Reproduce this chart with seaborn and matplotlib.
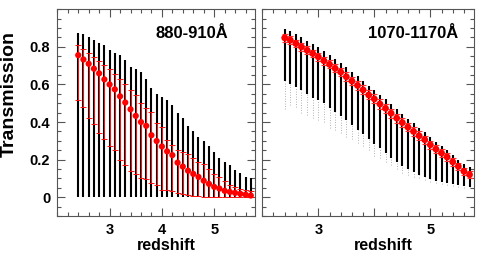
import matplotlib
matplotlib.use("Agg")
import matplotlib.pyplot as plt
from matplotlib.ticker import MultipleLocator, FixedLocator
import seaborn as sns
import numpy as np

# redshift bins (same for both panels)
z = [2.4, 2.5, 2.6, 2.7, 2.8, 2.9, 3.0, 3.1, 3.2, 3.3, 3.4, 3.5, 3.6, 3.7, 3.8, 3.9, 4.0,
     4.1, 4.2, 4.3, 4.4, 4.5, 4.6, 4.7, 4.8, 4.9, 5.0, 5.1, 5.2, 5.3, 5.4, 5.5, 5.6, 5.7]

# 880-910A panel
lyc_mean = [0.756, 0.733, 0.71, 0.684, 0.659, 0.627, 0.60, 0.574, 0.537, 0.504, 0.468, 0.433,
            0.40, 0.38, 0.33, 0.299, 0.27, 0.244, 0.224, 0.184, 0.163, 0.141, 0.124, 0.108,
            0.088, 0.071, 0.055, 0.046, 0.034, 0.028, 0.023, 0.018, 0.014, 0.009]
lyc_hi = [0.81, 0.79, 0.77, 0.747, 0.724, 0.703, 0.68, 0.654, 0.629, 0.60, 0.57, 0.544,
          0.50, 0.475, 0.452, 0.394, 0.371, 0.306, 0.279, 0.253, 0.24, 0.23, 0.21, 0.19,
          0.177, 0.15, 0.125, 0.106, 0.085, 0.067, 0.055, 0.044, 0.038, 0.032]
lyc_lo = [0.518, 0.479, 0.42, 0.392, 0.34, 0.312, 0.275, 0.249, 0.198, 0.17, 0.139, 0.122,
          0.10, 0.097, 0.076, 0.064, 0.04, 0.037, 0.032, 0.025, 0.018, 0.012, 0.008, 0.005,
          0.003, 0.0, 0.0, 0.0, 0.0, 0.0, 0.0, 0.0, 0.0, 0.0]
lyc_top = [0.876, 0.871, 0.853, 0.839, 0.822, 0.809, 0.783, 0.768, 0.756, 0.73, 0.694, 0.68,
           0.668, 0.629, 0.58, 0.55, 0.535, 0.518, 0.491, 0.447, 0.42, 0.38, 0.35, 0.32,
           0.30, 0.27, 0.24, 0.21, 0.19, 0.17, 0.145, 0.13, 0.11, 0.10]

# 1070-1170A panel
lya_mean = [0.848, 0.836, 0.818, 0.80, 0.782, 0.765, 0.747, 0.726, 0.707, 0.686, 0.666, 0.641,
            0.618, 0.595, 0.571, 0.544, 0.523, 0.496, 0.473, 0.447, 0.421, 0.397, 0.373, 0.35,
            0.327, 0.306, 0.279, 0.256, 0.235, 0.214, 0.188, 0.164, 0.138, 0.12]
lya_err = [0.02, 0.02, 0.02, 0.02, 0.021, 0.021, 0.021, 0.022, 0.022, 0.022, 0.023, 0.023,
           0.023, 0.024, 0.024, 0.024, 0.024, 0.024, 0.024, 0.024, 0.024, 0.024, 0.023, 0.023,
           0.023, 0.022, 0.022, 0.021, 0.021, 0.02, 0.02, 0.019, 0.018, 0.017]
lya_top = [0.897, 0.885, 0.868, 0.85, 0.833, 0.815, 0.797, 0.777, 0.757, 0.737, 0.716, 0.692,
           0.668, 0.645, 0.62, 0.594, 0.572, 0.545, 0.52, 0.494, 0.468, 0.443, 0.418, 0.394,
           0.37, 0.348, 0.32, 0.296, 0.274, 0.252, 0.225, 0.2, 0.175, 0.162]
lya_low = [0.62, 0.60, 0.585, 0.57, 0.55, 0.53, 0.515, 0.50, 0.475, 0.455, 0.43, 0.41,
           0.385, 0.36, 0.335, 0.31, 0.285, 0.26, 0.235, 0.21, 0.19, 0.165, 0.15, 0.135,
           0.12, 0.105, 0.095, 0.087, 0.08, 0.075, 0.07, 0.065, 0.06, 0.055]
lya_tail = [0.47, 0.49, 0.48, 0.45, 0.44, 0.42, 0.41, 0.40, 0.37, 0.36, 0.34, 0.32,
            0.31, 0.29, 0.27, 0.25, 0.22, 0.21, 0.19, 0.17, 0.15, 0.13, 0.12, 0.11,
            0.10, 0.09, 0.08, 0.075, 0.07, 0.065, 0.06, 0.055, 0.05, 0.048]

sns.set_style("ticks")
plt.rcParams['font.family'] = ['Liberation Sans', 'DejaVu Sans']
plt.rcParams['font.weight'] = 'bold'
plt.rcParams['text.color'] = 'black'
plt.rcParams['axes.labelcolor'] = 'black'
plt.rcParams['xtick.labelcolor'] = 'black'
plt.rcParams['ytick.labelcolor'] = 'black'

fig = plt.figure(figsize=(4.91, 2.54), dpi=100)
ax1 = fig.add_axes([0.1167, 0.1496, 0.4026, 0.8138])
ax2 = fig.add_axes([0.5342, 0.1496, 0.4312, 0.8138])

zz = np.array(z)

# left panel
ax1.vlines(zz, 0, lyc_top, color='black', lw=1.5, zorder=1)
m = np.array(lyc_mean)
ax1.errorbar(zz, m, yerr=[m - np.array(lyc_lo), np.array(lyc_hi) - m], fmt='none',
             ecolor='#ff1010', elinewidth=0.7, capsize=2.5, capthick=0.7, zorder=2)
sns.scatterplot(x=z, y=lyc_mean, ax=ax1, color='red', s=20, edgecolor='none', zorder=3)

# right panel
ax2.vlines(zz, lya_tail, lya_low, color='#999999', lw=0.6, linestyles=(0, (1, 2)), zorder=1)
ax2.vlines(zz, lya_low, lya_top, color='black', lw=1.5, zorder=1)
ax2.errorbar(zz, lya_mean, yerr=lya_err, fmt='none', ecolor='#ff3030', elinewidth=0.8,
             capsize=2.5, capthick=0.8, zorder=2)
sns.scatterplot(x=z, y=lya_mean, ax=ax2, color='red', s=24, edgecolor='none', zorder=3)

for ax in (ax1, ax2):
    ax.set_xlim(2.0, 5.78)
    ax.set_ylim(-0.1, 1.0)
    ax.xaxis.set_major_locator(FixedLocator([3, 4, 5]))
    ax.xaxis.set_minor_locator(MultipleLocator(0.2))
    ax.yaxis.set_major_locator(FixedLocator([0, 0.2, 0.4, 0.6, 0.8]))
    ax.yaxis.set_minor_locator(MultipleLocator(0.05))
    ax.tick_params(which='both', direction='in', top=True, right=True, color='#555555',
                   width=0.8, labelsize=10.5, pad=5, labelcolor='black')
    ax.tick_params(which='major', length=6)
    ax.tick_params(which='minor', length=3)
    for sp in ax.spines.values():
        sp.set_color('#555555')
        sp.set_linewidth(0.8)
    ax.set_ylabel('')
    ax.set_xlabel('redshift', fontsize=11.5, fontweight='bold', color='black')

ax1.set_xticks([3, 4, 5], ['3', '4', '5'])
ax1.set_yticks([0, 0.2, 0.4, 0.6, 0.8], ['0', '0.2', '0.4', '0.6', '0.8'])
ax2.set_xticks([3, 4, 5], ['3', '', '5'])
ax2.set_yticklabels([])

ax1.set_ylabel('Transmission', fontsize=14, fontweight='bold', color='black')
ax1.yaxis.set_label_coords(-0.2, 0.59)
ax1.xaxis.set_label_coords(0.552, -0.105)
ax2.xaxis.set_label_coords(0.572, -0.105)

ax1.text(0.867, 0.885, '880-910Å', transform=ax1.transAxes, ha='right', va='center',
         fontsize=12, fontweight='bold', color='black')
ax2.text(0.926, 0.885, '1070-1170Å', transform=ax2.transAxes, ha='right', va='center',
         fontsize=12, fontweight='bold', color='black')

fig.savefig('out.png', dpi=100)
